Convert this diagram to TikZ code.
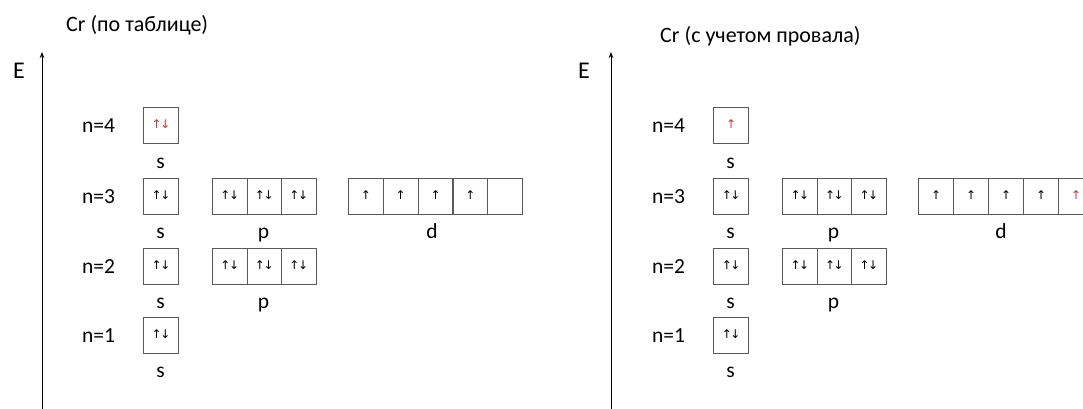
\documentclass[tikz,border=0pt]{standalone}
\usepackage{fontspec}
\setmainfont{Carlito}
\newfontfamily\arrowfont{DejaVu Sans}
\usetikzlibrary{arrows.meta}
\definecolor{boxgray}{gray}{0.35}
\definecolor{spinred}{RGB}{215,50,50}
\newcommand\spinpair{\raisebox{2pt}{\arrowfont\fontsize{12}{12}\selectfont ↑\kern-1.5pt↓}}
\newcommand\spinup{\raisebox{2pt}{\arrowfont\fontsize{12}{12}\selectfont ↑}}
\begin{document}
\begin{tikzpicture}[x=1pt,y=-1pt,
  orb/.style={draw=boxgray, line width=1.1pt, minimum width=35pt, minimum height=36pt, inner sep=0pt, anchor=north west},
  pcell/.style={orb, minimum width=34.5pt},
  dcell/.style={orb, minimum width=34.8pt},
  lbl/.style={font=\fontsize{21.5}{24}\selectfont, inner sep=0pt, anchor=base},
  nlbl/.style={font=\fontsize{21.5}{24}\selectfont, inner sep=0pt, anchor=base west},
  ttl/.style={font=\fontsize{22}{26}\selectfont, inner sep=0pt, anchor=base west},
  elbl/.style={font=\fontsize{24}{28}\selectfont, inner sep=0pt, anchor=base west},
  axis/.style={line width=1pt, -{Stealth[length=6pt,width=4.5pt]}}]
\useasboundingbox (0,0) rectangle (1083,409);

% ---------- left diagram ----------
\node[ttl] (Ltitle) at (66,32) {Cr (по таблице)};
\node[elbl] (LE) at (13,79) {E};
\coordinate (Lbot) at (42,409);
\coordinate (Ltop) at (42,52);
\draw[axis] (Lbot) -- (Ltop);

\node[nlbl] (Ln4) at (82,132) {n=4};
\node[nlbl] (Ln3) at (82,203) {n=3};
\node[nlbl] (Ln2) at (82,273) {n=2};
\node[nlbl] (Ln1) at (82,342) {n=1};

\node[orb, text=spinred] (L4s) at (143,107) {\spinpair};
\node[lbl] (L4sl) at (160.5,168) {s};

\node[orb] (L3s) at (143,178) {\spinpair};
\foreach \i in {0,1,2} \node[pcell] (L3p\i) at (212+34.5*\i,178) {\spinpair};
\foreach \i in {0,1,2,3} \node[dcell] (L3d\i) at (348+34.8*\i,178) {\spinup};
\node[dcell] (L3d4) at (348+34.8*4,178) {};
\node[lbl] (L3sl) at (160.5,238) {s};
\node[lbl] (L3pl) at (263.5,238) {p};
\node[lbl] (L3dl) at (432,238) {d};

\node[orb] (L2s) at (143,248) {\spinpair};
\foreach \i in {0,1,2} \node[pcell] (L2p\i) at (212+34.5*\i,248) {\spinpair};
\node[lbl] (L2sl) at (160.5,308) {s};
\node[lbl] (L2pl) at (263.5,308) {p};

\node[orb] (L1s) at (143,317) {\spinpair};
\node[lbl] (L1sl) at (160.5,377) {s};

% ---------- right diagram ----------
\node[ttl] (Rtitle) at (660,43) {Cr (с учетом провала)};
\node[elbl] (RE) at (578,79) {E};
\coordinate (Rbot) at (611,409);
\coordinate (Rtop) at (611,52);
\draw[axis] (Rbot) -- (Rtop);

\node[nlbl] (Rn4) at (652,132) {n=4};
\node[nlbl] (Rn3) at (652,203) {n=3};
\node[nlbl] (Rn2) at (652,273) {n=2};
\node[nlbl] (Rn1) at (652,342) {n=1};

\node[orb, text=spinred] (R4s) at (713,107) {\spinup};
\node[lbl] (R4sl) at (730.5,168) {s};

\node[orb] (R3s) at (713,178) {\spinpair};
\foreach \i in {0,1,2} \node[pcell] (R3p\i) at (782+34.5*\i,178) {\spinpair};
\foreach \i in {0,1,2,3} \node[orb] (R3d\i) at (918+35*\i,178) {\spinup};
\node[orb, text=spinred] (R3d4) at (918+35*4,178) {\spinup};
\node[lbl] (R3sl) at (730.5,238) {s};
\node[lbl] (R3pl) at (833.5,238) {p};
\node[lbl] (R3dl) at (1001,238) {d};

\node[orb] (R2s) at (713,248) {\spinpair};
\foreach \i in {0,1,2} \node[pcell] (R2p\i) at (782+34.5*\i,248) {\spinpair};
\node[lbl] (R2sl) at (730.5,308) {s};
\node[lbl] (R2pl) at (833.5,308) {p};

\node[orb] (R1s) at (713,317) {\spinpair};
\node[lbl] (R1sl) at (730.5,377) {s};
\end{tikzpicture}
\end{document}
